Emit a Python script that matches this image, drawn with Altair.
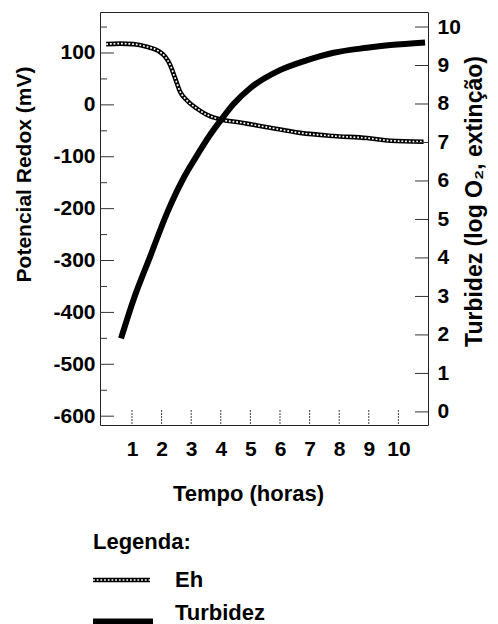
import altair as alt
import pandas as pd

# ---- data ----
eh_time = [0.13, 0.6, 1.05, 1.5, 1.89, 2.12, 2.29, 2.46, 2.63, 2.85, 3.19, 3.53,
           3.98, 4.66, 5.56, 6.68, 7.81, 8.94, 9.73, 10.85]
eh_mv = [117, 118, 117, 112, 104, 93, 77, 51, 25, 9, -7, -19,
         -28, -34, -43, -54, -60, -64, -69, -71]

turb_time = [0.63, 1.05, 1.61, 2.18, 2.74, 3.13, 3.64, 4.04, 4.43, 4.99, 6.0,
             6.92, 7.81, 8.94, 9.73, 10.9]
turb_val = [1.91, 2.91, 4.03, 5.16, 6.07, 6.58, 7.2, 7.62, 8.0, 8.41, 8.88,
            9.14, 9.33, 9.46, 9.53, 9.6]

x_ticks = [1, 2, 3, 4, 5, 6, 7, 8, 9, 10]
left_major = [-600, -500, -400, -300, -200, -100, 0, 100]
left_minor = [-550, -450, -350, -250, -150, -50, 50, 150]
right_ticks = [0, 1, 2, 3, 4, 5, 6, 7, 8, 9, 10]

x_title = "Tempo (horas)"
left_title = "Potencial Redox (mV)"
right_title = "Turbidez (log O\u2082, extinção)"
legend_title = "Legenda:"
legend_labels = ["Eh", "Turbidez"]

W, H = 328, 413
FONT = "Liberation Sans"

xs = alt.Scale(domain=[-0.08, 11.0], nice=False, zero=False)
ls = alt.Scale(domain=[-617, 179], nice=False, zero=False)
rs = alt.Scale(domain=[-0.34, 10.39], nice=False, zero=False)

eh = pd.DataFrame({"t": eh_time, "v": eh_mv})
tb = pd.DataFrame({"t": turb_time, "v": turb_val})
one = pd.DataFrame({"k": [0]})

x_axis = alt.Axis(values=x_ticks, ticks=False, domain=False, grid=False,
                  labelPadding=13, labelOverlap=False, labelFlush=False,
                  labelFontSize=21, labelBound=False,
                  title=x_title, titleX=148, titleY=68,
                  titleAlign="center", titleBaseline="middle", titleFontSize=22)
left_axis = alt.Axis(values=left_major, ticks=False, domain=False, grid=False,
                     labelPadding=5, labelExpr="datum.value + ''",
                     title=left_title, titleX=-76, titleY=162,
                     titleAngle=270, titleAlign="center", titleBaseline="middle",
                     titleFontSize=21)
right_axis = alt.Axis(values=right_ticks, orient="right", ticks=False, domain=False,
                      grid=False, labelPadding=9, title=right_title, titleX=46,
                      titleY=189, titleAngle=270, titleAlign="center",
                      titleBaseline="middle", titleFontSize=23)

X = alt.X("t:Q", scale=xs, axis=x_axis)

eh_black = alt.Chart(eh).mark_line(color="black", strokeWidth=4.6,
                                   interpolate="monotone").encode(
    x=X,
    y=alt.Y("v:Q", scale=ls, axis=left_axis),
)
eh_white = alt.Chart(eh).mark_line(color="white", strokeWidth=1.7,
                                   strokeDash=[1.8, 1.9],
                                   interpolate="monotone").encode(
    x=X,
    y=alt.Y("v:Q", scale=ls, axis=left_axis),
)
lmaj = alt.Chart(pd.DataFrame({"v": left_major})).mark_rule(
    color="#333", strokeWidth=1).encode(
    x=alt.value(0), x2=alt.value(14), y=alt.Y("v:Q", scale=ls, axis=left_axis))
lmin = alt.Chart(pd.DataFrame({"v": left_minor})).mark_rule(
    color="#333", strokeWidth=1).encode(
    x=alt.value(0), x2=alt.value(7), y=alt.Y("v:Q", scale=ls, axis=left_axis))
xt = alt.Chart(pd.DataFrame({"t": x_ticks})).mark_rule(
    color="#444", strokeWidth=1, strokeDash=[2, 1]).encode(
    x=X, y=alt.value(H - 15), y2=alt.value(H))

# legend (manual, below the plot)
leg_title = alt.Chart(one).mark_text(
    font=FONT, fontWeight="bold", fontSize=22, align="left", baseline="middle",
    color="black").encode(x=alt.value(-7), y=alt.value(530), text=alt.value(legend_title))
leg_eh_txt = alt.Chart(one).mark_text(
    font=FONT, fontWeight="bold", fontSize=22, align="left", baseline="middle",
    color="black").encode(x=alt.value(75), y=alt.value(568), text=alt.value(legend_labels[0]))
leg_tb_txt = alt.Chart(one).mark_text(
    font=FONT, fontWeight="bold", fontSize=22, align="left", baseline="middle",
    color="black").encode(x=alt.value(75), y=alt.value(601), text=alt.value(legend_labels[1]))
leg_eh_b = alt.Chart(one).mark_rule(color="black", strokeWidth=4.6).encode(
    x=alt.value(-7), x2=alt.value(50), y=alt.value(568))
leg_eh_w = alt.Chart(one).mark_rule(color="white", strokeWidth=1.7,
                                    strokeDash=[1.8, 1.9]).encode(
    x=alt.value(-7), x2=alt.value(50), y=alt.value(568))
leg_tb = alt.Chart(one).mark_rule(color="black", strokeWidth=7).encode(
    x=alt.value(-7), x2=alt.value(53), y=alt.value(610))

left_layer = alt.layer(eh_black, eh_white, lmaj, lmin, xt,
                       leg_title, leg_eh_txt, leg_tb_txt, leg_eh_b, leg_eh_w, leg_tb)

tb_line = alt.Chart(tb).mark_line(color="black", strokeWidth=6,
                                  interpolate="monotone").encode(
    x=X,
    y=alt.Y("v:Q", scale=rs, axis=right_axis),
)
rtk = alt.Chart(pd.DataFrame({"v": right_ticks})).mark_rule(
    color="#333", strokeWidth=1).encode(
    x=alt.value(W - 13), x2=alt.value(W), y=alt.Y("v:Q", scale=rs, axis=right_axis))
right_layer = alt.layer(tb_line, rtk)

chart = alt.layer(left_layer, right_layer).resolve_scale(y="independent").properties(
    width=W, height=H,
    autosize=alt.AutoSizeParams(type="none"),
    padding={"left": 92, "top": 4, "right": 62, "bottom": 199},
).configure_view(stroke="#222", strokeWidth=1).configure_axis(
    labelFont=FONT, labelFontWeight="bold", labelFontSize=21, labelColor="black",
    titleFont=FONT, titleFontWeight="bold", titleColor="black", labelOverlap=False,
)

chart.save("out.html", embed_options={"renderer": "svg", "actions": False})
